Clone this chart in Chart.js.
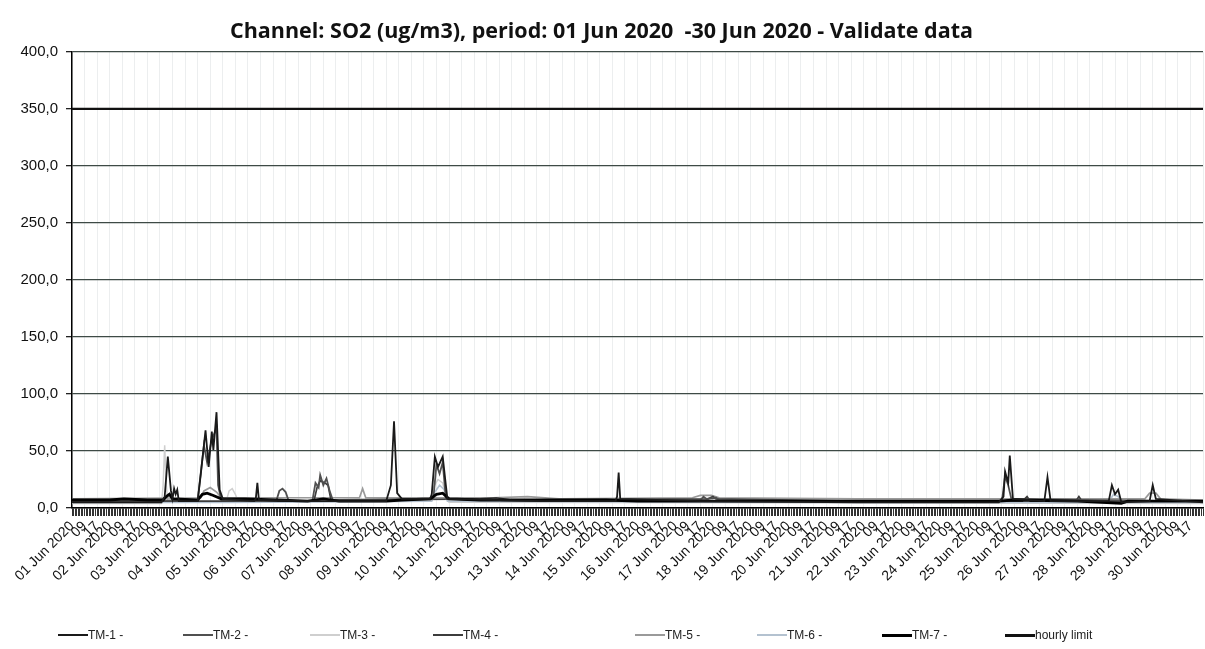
<!DOCTYPE html>
<html>
<head>
<meta charset="utf-8">
<script src="https://cdn.jsdelivr.net/npm/chart.js@4.4.1/dist/chart.umd.min.js"></script>
<style>
html,body{margin:0;padding:0;background:#fff;}
#wrap{position:relative;width:1205px;height:649px;overflow:hidden;}
#c{position:absolute;left:0;top:0;}
#legend{position:absolute;left:0;top:627px;width:1205px;height:16px;font-family:"Liberation Sans",Arial,sans-serif;font-size:12px;color:#222;}
.item{position:absolute;top:0;height:16px;display:flex;align-items:center;white-space:nowrap;}
.swatch{display:inline-block;width:30px;}
</style>
</head>
<body>
<div id="wrap">
  <canvas id="c" width="1205" height="649"></canvas>
  <div id="legend"></div>
</div>
<script>
// ---------- data (hour index from 01 Jun 2020 01:00, value in ug/m3) ----------
const dayLabels = ["01 Jun 2020","02 Jun 2020","03 Jun 2020","04 Jun 2020","05 Jun 2020","06 Jun 2020",
  "07 Jun 2020","08 Jun 2020","09 Jun 2020","10 Jun 2020","11 Jun 2020","12 Jun 2020","13 Jun 2020",
  "14 Jun 2020","15 Jun 2020","16 Jun 2020","17 Jun 2020","18 Jun 2020","19 Jun 2020","20 Jun 2020",
  "21 Jun 2020","22 Jun 2020","23 Jun 2020","24 Jun 2020","25 Jun 2020","26 Jun 2020","27 Jun 2020",
  "28 Jun 2020","29 Jun 2020","30 Jun 2020"];
const hourLabels = ["09","17"];
const yTickLabels = ["0,0","50,0","100,0","150,0","200,0","250,0","300,0","350,0","400,0"];
const seriesNames = ["TM-1 -","TM-2 -","TM-3 -","TM-4 -","TM-5 -","TM-6 -","TM-7 -","hourly limit"];

const tm1 = [[0,5],[30,5],[57,5],[59,10],[61,45],[63,15],[64,8],[65,17],[66,12],[67,16],[68,6],[80,6],
  [82,30],[85,68],[87,36],[89,67],[90,51],[92,84],[94,16],[96,8],[116,6],[117,8],[118,22],[119,7],
  [150,6],[200,6],[203,20],[205,76],[207,13],[210,8],[228,8],[229,12],[231,45],[233,36],[236,45],
  [238,20],[239,8],[300,6],[346,6],[347,10],[348,31],[349,8],[400,6],[500,5],[590,5],[593,10],
  [594,32],[596,22],[597,46],[599,8],[619,6],[621,27],[623,6],[660,6],[662,20],[664,12],[666,16],
  [668,5],[686,6],[688,20],[690,8],[720,5]];
const tm2 = [[0,6],[40,6],[80,7],[84,55],[86,40],[89,60],[92,70],[93,20],[95,7],[130,6],[132,15],
  [134,17],[136,14],[138,6],[153,6],[155,22],[157,18],[158,29],[160,20],[162,26],[164,15],[166,7],
  [230,8],[232,38],[234,30],[236,40],[238,8],[300,6],[400,7],[402,10],[404,8],[410,9],[412,7],
  [500,6],[592,6],[594,28],[596,20],[598,8],[700,6],[720,6]];
const tm3 = [[0,4],[57,4],[58,20],[59,55],[60,20],[61,5],[98,5],[100,15],[102,17],[104,12],[106,5],
  [228,6],[230,18],[233,25],[236,22],[238,10],[240,5],[720,4]];
const tm4 = [[0,6],[100,6],[154,6],[156,18],[158,24],[161,22],[163,20],[165,6],[185,7],[260,8],
  [270,9],[280,7],[405,8],[408,10],[410,8],[500,6],[605,6],[608,10],[610,6],[639,6],[641,10],
  [643,6],[720,6]];
const tm5 = [[0,8],[82,9],[84,15],[88,18],[92,14],[95,9],[183,9],[185,17],[187,9],[268,9],[290,10],
  [310,8],[395,9],[400,11],[407,11],[412,9],[500,8],[683,8],[686,13],[690,13],[693,8],[720,7]];
const tm6 = [[0,5],[100,5],[229,6],[231,14],[234,20],[237,16],[239,6],[500,5],[660,5],[663,12],
  [666,10],[668,5],[720,5]];
const tm7 = [[0,7],[24,7],[33,8],[48,7],[58,7],[60,10],[62,12],[64,8],[80,7],[83,12],[86,13],[90,11],
  [95,8],[110,8],[130,7],[150,6],[160,8],[170,6],[200,6],[210,7],[228,8],[232,12],[236,13],[240,8],
  [260,7],[300,7],[340,7],[360,6],[400,6],[450,6],[500,6],[540,6],[590,6],[600,7],[640,6],[668,4],
  [672,6],[700,6],[720,6]];
const hourlyLimit = [[0,350],[720,350]];

// ---------- chart ----------
const toPts = arr => arr.map(p => ({x: p[0], y: p[1]}));
const styles = [
  {color:'#1a1a1a', width:1.8, order:1},
  {color:'#505050', width:1.8, order:3},
  {color:'#cfcfcf', width:1.5, order:7},
  {color:'#3c3c3c', width:1.7, order:4},
  {color:'#9a9a9a', width:1.7, order:5},
  {color:'#b4c2d0', width:1.7, order:6},
  {color:'#000000', width:2.8, order:2},
  {color:'#111111', width:2.4, order:0}
];
const seriesData = [tm1, tm2, tm3, tm4, tm5, tm6, tm7, hourlyLimit];
const datasets = seriesData.map((d, i) => ({
  label: seriesNames[i],
  data: toPts(d),
  borderColor: styles[i].color,
  backgroundColor: styles[i].color,
  borderWidth: styles[i].width,
  order: styles[i].order,
  pointRadius: 0,
  tension: 0,
  fill: false
}));

function xLabel(v) {
  const h = Math.round(v);
  if (h % 8 !== 0) return '';
  const day = Math.floor(h / 24), slot = (h % 24) / 8;
  if (day >= dayLabels.length) return '';
  return slot === 0 ? dayLabels[day] : hourLabels[slot - 1];
}

new Chart(document.getElementById('c'), {
  type: 'line',
  data: { datasets },
  options: {
    responsive: false,
    animation: false,
    events: [],
    layout: { padding: { left: 0, right: 2, top: 0, bottom: 0 } },
    plugins: {
      legend: { display: false },
      tooltip: { enabled: false },
      title: {
        display: true,
        text: 'Channel: SO2 (ug/m3), period: 01 Jun 2020  -30 Jun 2020 - Validate data',
        color: '#111',
        font: { family: '"Open Sans", "DejaVu Sans", sans-serif', size: 21.5, weight: 'bold' },
        padding: { top: 19, bottom: 7 }
      }
    },
    scales: {
      x: {
        type: 'linear',
        min: 0, max: 720,
        afterFit: s => { s.height = 141; s.paddingLeft = 0; s.paddingRight = 0; },
        border: { display: true, color: '#000', width: 1.5 },
        grid: {
          drawOnChartArea: true,
          color: c => (c.tick && Math.round(c.tick.value) % 8 === 0) ? 'rgba(110,120,135,0.13)' : 'rgba(0,0,0,0)',
          tickColor: '#333',
          tickLength: 8,
          lineWidth: 1
        },
        ticks: {
          stepSize: 1,
          autoSkip: false,
          maxRotation: 45, minRotation: 45,
          padding: 2,
          color: '#111',
          font: { family: '"Liberation Sans", Arial, sans-serif', size: 14 },
          callback: v => xLabel(v)
        }
      },
      y: {
        min: 0, max: 400,
        afterFit: s => { s.width = 72; },
        border: { display: true, color: '#000', width: 1.5 },
        grid: { color: '#3e4a46', lineWidth: 1.3, tickLength: 6, tickColor: '#222' },
        ticks: {
          stepSize: 50,
          padding: 8,
          color: '#111',
          font: { family: '"Liberation Sans", Arial, sans-serif', size: 15 },
          callback: v => yTickLabels[Math.round(v / 50)]
        }
      }
    }
  }
});

// ---------- legend ----------
const legendLeft = [58, 183, 310, 433, 635, 757, 882, 1005];
const legend = document.getElementById('legend');
datasets.forEach((ds, i) => {
  const it = document.createElement('div');
  it.className = 'item';
  it.style.left = legendLeft[i] + 'px';
  const sw = document.createElement('span');
  sw.className = 'swatch';
  sw.style.height = (i === 6 || i === 7 ? 3 : 2.5) + 'px';
  sw.style.background = ds.borderColor;
  const tx = document.createElement('span');
  tx.textContent = ds.label;
  it.appendChild(sw); it.appendChild(tx);
  legend.appendChild(it);
});
</script>
</body>
</html>
